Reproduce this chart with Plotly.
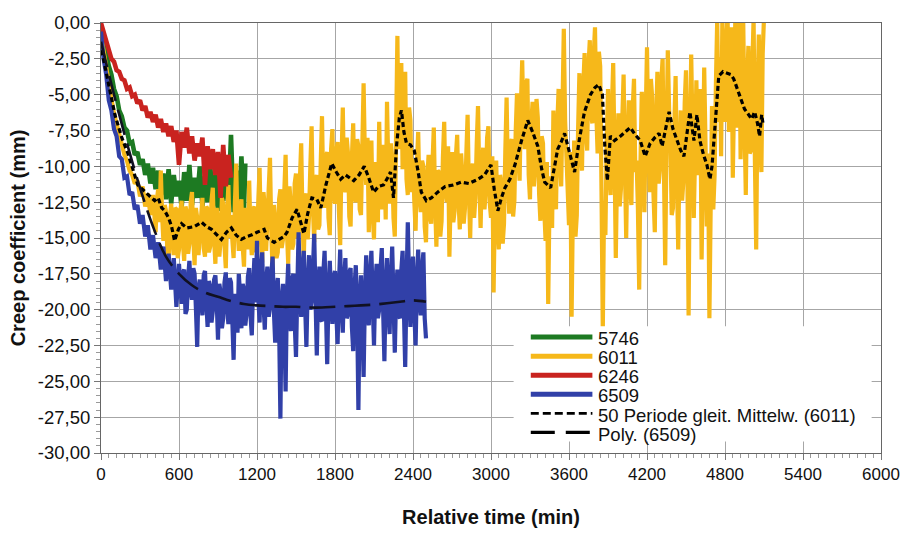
import plotly.graph_objects as go

# ---- measured series (time in min, creep coefficient in mm) ----
t_5746 = list(range(0, 1101, 20)) + [1110]
v_5746 = [-0.3, -1.3, -2.0, -3.0, -3.6, -4.6, -5.1, -6.1, -6.5, -7.3,
          -7.5, -8.4, -8.3, -9.2, -9.0, -9.9, -9.5, -10.6, -9.8, -11.2,
          -10.1, -11.6, -10.3, -12.0, -10.5, -12.3, -10.2, -12.6, -10.6, -12.1,
          -11.0, -12.9, -10.4, -12.4, -9.9, -12.7, -10.8, -12.2, -10.0, -12.8,
          -10.7, -12.5, -9.8, -12.9, -10.6, -13.1, -10.1, -12.4, -9.6, -12.7,
          -7.8, -13.2, -10.3, -13.4, -9.3, -13.0, -9.8]

# 6011: 20-min samples up to 380 min, 10-min samples afterwards
t_6011 = list(range(0, 400, 20)) + list(range(400, 5101, 10))
v_6011 = [
    -0.8, -2.0, -3.2, -4.4, -5.3, -6.3, -7.1, -7.8, -8.6, -9.2,
    -9.6, -10.3, -10.6, -11.2, -11.0, -12.1, -11.4, -12.8, -11.9, -13.4,
    # 400 - 590
    -12.0, -13.8, -14.6, -12.3, -11.6, -13.9, -10.3, -13.4, -15.2, -12.7,
    -13.1, -15.9, -17.4, -13.5, -12.6, -15.0, -16.2, -12.9, -13.0, -16.4,
    # 600 - 790
    -15.8, -13.1, -12.4, -15.3, -16.6, -12.8, -13.2, -16.1, -15.4, -12.5,
    -11.8, -14.9, -16.9, -12.9, -13.6, -16.2, -14.8, -12.6, -12.2, -15.7,
    # 800 - 990
    -16.3, -12.8, -13.0, -16.0, -15.6, -12.4, -11.5, -15.1, -16.8, -12.9,
    -13.9, -16.3, -15.2, -12.2, -12.6, -15.5, -17.1, -13.3, -11.3, -15.0,
    # 1000 - 1190
    -13.4, -15.1, -16.4, -12.6, -9.8, -14.2, -15.9, -13.0, -12.3, -15.6,
    -17.0, -12.9, -13.5, -15.8, -11.0, -14.7, -16.2, -13.1, -12.8, -16.0,
    # 1200 - 1390
    -15.6, -12.4, -10.1, -14.8, -16.7, -11.8, -12.9, -15.9, -14.0, -12.1,
    -9.4, -14.6, -17.3, -12.7, -13.8, -16.4, -16.0, -12.3, -11.6, -15.7,
    # 1400 - 1590
    -15.1, -11.8, -9.2, -14.5, -16.8, -11.4, -12.7, -15.8, -15.4, -11.2,
    -10.5, -15.0, -14.6, -10.9, -8.4, -13.7, -16.5, -12.2, -11.9, -15.1,
    # 1600 - 1790
    -13.5, -10.1, -7.2, -12.8, -15.3, -11.0, -10.6, -14.4, -14.1, -9.8,
    -6.5, -11.9, -12.9, -9.3, -9.0, -13.6, -14.8, -8.8, -7.4, -12.0,
    # 1800 - 1990
    -12.6, -9.0, -8.3, -13.1, -15.5, -9.6, -5.9, -11.4, -11.8, -8.0,
    -9.1, -13.5, -14.2, -9.4, -7.0, -12.2, -12.5, -8.1, -8.6, -13.0,
    # 2000 - 2190
    -13.4, -8.7, -4.2, -9.5, -11.3, -8.0, -14.6, -10.2, -8.2, -13.3,
    -15.1, -9.7, -10.7, -13.9, -6.9, -11.6, -13.0, -8.5, -9.4, -13.7,
    # 2200 - 2390
    -5.5, -10.0, -12.6, -8.4, -9.8, -13.6, -14.9, -7.5, -0.9, -8.8,
    -6.0, -2.8, -10.2, -5.6, -3.4, -10.9, -12.0, -5.9, -6.8, -11.8,
    # 2400 - 2590
    -9.5, -12.4, -14.5, -9.9, -7.6, -12.1, -13.2, -9.6, -10.0, -14.2,
    -15.3, -10.8, -9.2, -13.5, -14.0, -9.8, -7.3, -12.6, -15.6, -10.3,
    # 2600 - 2790
    -10.4, -14.9, -13.8, -9.4, -6.9, -11.8, -12.5, -8.6, -16.3, -12.0,
    -9.0, -13.9, -13.1, -9.3, -7.8, -12.3, -14.4, -9.1, -10.6, -14.0,
    # 2800 - 2990
    -12.9, -9.2, -6.4, -11.7, -15.0, -10.4, -9.8, -13.6, -12.2, -8.5,
    -5.8, -10.9, -14.3, -10.0, -8.7, -13.0, -11.6, -8.0, -7.2, -12.5,
    # 3000 - 3190
    -13.6, -9.3, -18.8, -12.4, -9.6, -14.1, -15.8, -10.6, -11.2, -15.4,
    -14.0, -9.0, -5.2, -10.8, -13.3, -8.4, -8.1, -13.5, -12.4, -7.6,
    # 3200 - 3390
    -4.9, -9.4, -11.0, -5.8, -2.6, -7.3, -8.8, -4.2, -3.9, -10.6,
    -12.3, -7.0, -5.5, -11.4, -10.1, -5.3, -6.6, -11.9, -13.8, -7.9,
    # 3400 - 3590
    -8.4, -13.1, -15.2, -9.7, -19.6, -12.5, -10.7, -14.3, -6.1, -10.9,
    -13.0, -7.1, -4.6, -9.5, -11.4, -5.9, -0.4, -6.8, -9.6, -12.7,
    # 3600 - 3790
    -14.1, -9.0, -20.5, -12.8, -8.2, -14.9, -13.4, -7.4, -3.5, -8.6,
    -10.3, -4.4, -2.1, -7.7, -8.9, -3.0, -1.2, -6.4, -7.0, -2.3,
    # 3800 - 3990
    -0.3, -6.2, -9.1, -2.0, -3.0, -11.7, -21.5, -12.4, -14.8, -8.3,
    -4.6, -10.5, -12.0, -6.0, -2.8, -9.2, -16.4, -10.1, -6.3, -12.8,
    # 4000 - 4190
    -11.5, -6.7, -3.6, -9.9, -15.0, -8.8, -5.4, -11.3, -12.7, -6.0,
    -3.9, -10.4, -9.6, -12.9, -18.6, -9.7, -4.8, -8.9, -13.2, -6.6,
    # 4200 - 4390
    -1.7, -7.9, -11.8, -3.9, -5.2, -12.0, -14.6, -6.8, -3.4, -11.2,
    -10.1, -4.1, -2.5, -10.0, -16.9, -8.2, -1.9, -6.0, -8.3, -13.4,
    # 4400 - 4590
    -12.9, -7.2, -3.7, -10.3, -15.8, -9.4, -6.1, -12.4, -11.0, -5.6,
    -3.3, -9.8, -20.4, -8.7, -2.2, -7.5, -13.6, -9.0, -4.0, -10.6,
    # 4600 - 4790
    -9.8, -4.6, -16.5, -10.2, -3.1, -8.4, -14.2, -9.1, -20.6, -12.7,
    -5.8, -13.0, -10.6, -4.3, 0.2, -6.9, -2.4, -9.3, 0.5, -4.8,
    # 4800 - 4990
    -6.9, -1.1, 0.4, -7.6, -2.0, -0.3, -10.8, -3.5, 0.6, -7.3,
    -4.2, 0.2, -9.5, -5.0, 0.3, -6.8, -12.0, -4.4, -1.6, -9.1,
    # 5000 - 5100
    -8.9, -3.0, 0.3, -9.6, -15.8, -5.2, -0.8, -7.7, -10.4, -2.1, 0.4]

t_6246 = list(range(0, 1001, 20))
v_6246 = [0.0, -0.6, -1.4, -1.8, -2.5, -2.7, -3.3, -3.4, -3.9, -4.0,
          -4.6, -4.5, -5.1, -5.0, -5.6, -5.4, -6.1, -5.8, -6.6, -6.2,
          -6.9, -6.4, -7.3, -6.7, -7.6, -7.0, -7.9, -7.2, -8.3, -7.5,
          -9.9, -7.6, -8.7, -7.3, -9.1, -7.9, -9.6, -8.4, -9.3, -8.0,
          -11.3, -8.6, -10.2, -8.8, -10.6, -9.0, -12.2, -8.5, -11.4, -9.2,
          -10.8]

# 6509: 20-min samples up to 580 min, 10-min samples afterwards
t_6509 = list(range(0, 600, 20)) + list(range(600, 2501, 10))
v_6509 = [
    -0.6, -2.5, -3.6, -5.4, -6.1, -7.4, -7.9, -9.3, -9.5, -10.8,
    -10.7, -12.0, -11.8, -13.0, -12.7, -14.0, -13.4, -14.9, -14.1, -15.8,
    -14.8, -16.4, -15.3, -17.2, -15.6, -18.0, -16.1, -18.6, -16.4, -19.8,
    # 600 - 790
    -16.8, -18.9, -19.6, -17.4, -17.2, -20.3, -20.0, -17.8, -16.6, -18.7,
    -19.3, -17.1, -17.5, -19.9, -22.6, -18.4, -17.9, -19.2, -20.4, -17.6,
    # 800 - 990
    -17.3, -19.5, -21.2, -18.0, -18.4, -20.9, -20.1, -17.9, -17.6, -19.4,
    -22.1, -18.2, -18.8, -21.3, -20.6, -18.1, -17.4, -19.8, -21.0, -17.8,
    # 1000 - 1190
    -18.1, -20.7, -23.5, -18.9, -19.4, -21.6, -17.5, -19.0, -21.3, -18.2,
    -18.6, -21.1, -20.2, -17.7, -17.1, -20.4, -21.8, -18.3, -16.4, -19.5,
    # 1200 - 1390
    -15.2, -19.1, -20.9, -17.2, -16.0, -19.6, -21.4, -18.1, -17.0, -20.5,
    -19.8, -17.6, -16.3, -20.1, -22.3, -18.5, -17.8, -21.0, -27.6, -19.3,
    # 1400 - 1590
    -18.2, -20.8, -25.7, -19.0, -16.8, -20.2, -21.5, -17.9, -17.5, -20.9,
    -23.3, -18.6, -14.6, -18.7, -20.5, -17.4, -15.9, -19.6, -22.6, -18.4,
    # 1600 - 1790
    -16.2, -20.0, -19.4, -17.3, -14.7, -19.1, -23.2, -18.6, -17.0, -20.7,
    -20.8, -17.5, -15.9, -19.8, -23.8, -18.9, -16.6, -19.4, -21.0, -17.7,
    # 1800 - 1990
    -17.3, -20.2, -22.4, -18.3, -15.8, -19.7, -21.6, -17.9, -16.4, -20.6,
    -20.3, -17.4, -17.1, -21.2, -22.9, -18.5, -16.9, -20.0, -27.0, -19.6,
    # 2000 - 2190
    -17.6, -20.4, -24.7, -19.1, -16.2, -19.8, -21.1, -17.6, -15.9, -19.5,
    -22.5, -18.3, -16.8, -20.6, -20.0, -17.2, -15.7, -19.9, -23.6, -18.6,
    # 2200 - 2390
    -16.4, -19.7, -21.7, -17.8, -15.6, -19.3, -23.0, -18.9, -17.2, -20.4,
    -20.6, -17.3, -15.9, -20.0, -24.0, -18.4, -13.9, -18.2, -21.2, -17.5,
    # 2400 - 2500
    -16.3, -20.1, -22.5, -18.0, -15.8, -19.4, -20.4, -17.1, -16.0, -20.6, -22.0]

# 50-period moving average of 6011
t_ma = [5, 50, 107, 160, 207, 283, 340, 390, 413, 440, 467, 490, 520, 543, 566,
        595, 620, 660, 719, 773, 810, 850, 890, 926, 965, 1003, 1040, 1079, 1120,
        1156, 1200, 1232, 1255, 1280, 1332, 1370, 1408, 1431, 1470, 1508, 1535,
        1561, 1590, 1622, 1660, 1691, 1730, 1775, 1810, 1844, 1880, 1921, 1944,
        1985, 2025, 2060, 2097, 2135, 2173, 2205, 2227, 2250, 2273, 2295, 2311,
        2330, 2350, 2380, 2410, 2440, 2464, 2503, 2541, 2590, 2648, 2710, 2770,
        2830, 2900, 2950, 3000, 3025, 3053, 3080, 3107, 3145, 3184, 3235, 3283,
        3320, 3360, 3390, 3413, 3459, 3490, 3513, 3540, 3566, 3600, 3643, 3680,
        3719, 3765, 3800, 3830, 3857, 3875, 3895, 3918, 3950, 3995, 4030, 4071,
        4110, 4148, 4186, 4224, 4260, 4293, 4316, 4345, 4370, 4400, 4431, 4460,
        4484, 4510, 4530, 4561, 4584, 4607, 4635, 4661, 4684, 4700, 4714, 4735,
        4752, 4785, 4814, 4845, 4867, 4890, 4913, 4950, 4982, 5005, 5028, 5050,
        5066, 5082, 5092]
v_ma = [-1.9, -4.0, -6.4, -8.0, -9.1, -11.3, -11.8, -12.2, -12.4, -12.2, -12.9,
        -13.1, -13.6, -14.2, -15.2, -14.4, -14.0, -14.3, -14.2, -13.9, -14.2,
        -14.4, -14.8, -15.1, -14.6, -14.3, -14.8, -15.1, -14.9, -14.8, -14.6,
        -14.5, -14.4, -15.0, -15.3, -15.1, -14.9, -14.6, -13.6, -13.0, -13.9,
        -14.7, -13.3, -12.2, -12.3, -12.9, -11.3, -9.8, -10.4, -10.9, -10.6,
        -10.9, -11.0, -10.6, -10.0, -10.8, -11.8, -11.4, -11.3, -10.8, -10.4,
        -12.2, -8.6, -6.6, -6.1, -7.6, -8.4, -8.5, -8.9, -10.4, -11.8, -12.4,
        -12.2, -11.8, -11.4, -11.3, -11.1, -11.2, -10.9, -10.6, -9.9, -11.6,
        -13.1, -12.2, -11.5, -10.9, -9.9, -8.2, -6.8, -7.6, -8.6, -10.2, -11.1,
        -11.5, -9.9, -8.8, -8.3, -7.7, -8.9, -10.4, -8.1, -6.2, -5.0, -4.5,
        -4.3, -5.0, -8.5, -11.0, -7.9, -8.2, -7.9, -7.6, -7.3, -7.8, -8.2,
        -9.3, -8.4, -8.0, -7.7, -8.6, -7.3, -6.2, -7.4, -8.2, -8.9, -9.3,
        -7.6, -6.2, -8.2, -6.4, -8.2, -9.2, -9.9, -10.9, -10.0, -8.2, -5.5,
        -3.7, -3.4, -3.5, -3.6, -3.9, -4.5, -5.2, -6.0, -6.4, -6.7, -6.2,
        -7.0, -7.9, -6.4, -7.0]

# polynomial trend of 6509
t_poly = list(range(0, 2501, 100))
v_poly = [-1.3, -5.0, -8.4, -11.5, -14.2, -16.3, -17.5, -18.3, -18.8, -19.1,
          -19.4, -19.6, -19.7, -19.75, -19.8, -19.8, -19.85, -19.85, -19.8,
          -19.75, -19.7, -19.65, -19.55, -19.45, -19.35, -19.45]

x_ticks = [0, 600, 1200, 1800, 2400, 3000, 3600, 4200, 4800, 5400, 6000]
y_ticks = [0, -2.5, -5, -7.5, -10, -12.5, -15, -17.5, -20, -22.5, -25, -27.5, -30]
y_tick_text = ["0,00", "-2,50", "-5,00", "-7,50", "-10,00", "-12,50", "-15,00",
               "-17,50", "-20,00", "-22,50", "-25,00", "-27,50", "-30,00"]

GREEN = "#1d7a22"
GOLD = "#f6b81a"
RED = "#c9231f"
BLUE = "#3140a8"
FONT = "Liberation Sans, Arial, sans-serif"
MA_DASH = "5px,3px"
POLY_DASH = "26px,9px"

fig = go.Figure()
fig.add_trace(go.Scatter(x=t_5746, y=v_5746, mode="lines", name="5746",
                         line=dict(color=GREEN, width=4.6)))
fig.add_trace(go.Scatter(x=t_6011, y=v_6011, mode="lines", name="6011",
                         line=dict(color=GOLD, width=4.2)))
fig.add_trace(go.Scatter(x=t_6246, y=v_6246, mode="lines", name="6246",
                         line=dict(color=RED, width=4.6)))
fig.add_trace(go.Scatter(x=t_6509, y=v_6509, mode="lines", name="6509",
                         line=dict(color=BLUE, width=4.2)))
fig.add_trace(go.Scatter(x=t_ma, y=v_ma, mode="lines",
                         name="50 Periode gleit. Mittelw. (6011)",
                         line=dict(color="black", width=3.2, dash=MA_DASH)))
fig.add_trace(go.Scatter(x=t_poly, y=v_poly, mode="lines", name="Poly. (6509)",
                         line=dict(color="#111122", width=2.6, dash=POLY_DASH,
                                   shape="spline")))

# legend drawn as a white box with swatches, over the lower right of the plot
legend_items = [("5746", GREEN, "solid", 5),
                ("6011", GOLD, "solid", 5),
                ("6246", RED, "solid", 5),
                ("6509", BLUE, "solid", 5),
                ("50 Periode gleit. Mittelw. (6011)", "black", "8px,4px", 2.8),
                ("Poly. (6509)", "black", "24px,11px", 3.2)]
shapes = [dict(type="rect", xref="paper", yref="paper", x0=0.529, x1=0.988,
               y0=0.027, y1=0.295, fillcolor="white", line=dict(width=0),
               layer="above")]
annotations = []
row_top, row_step = 0.2695, 0.0443
for i, (label, col, dash, w) in enumerate(legend_items):
    yy = row_top - i * row_step
    shapes.append(dict(type="line", xref="paper", yref="paper", x0=0.551, x1=0.630,
                       y0=yy, y1=yy, line=dict(color=col, width=w, dash=dash),
                       layer="above"))
    annotations.append(dict(xref="paper", yref="paper", x=0.634, y=yy - 0.004,
                            text=label, showarrow=False, xanchor="left",
                            yanchor="middle",
                            font=dict(family=FONT, size=18.5, color="#111")))

fig.update_layout(
    width=912, height=536,
    margin=dict(l=101, r=27, t=15, b=74),
    paper_bgcolor="white", plot_bgcolor="white",
    showlegend=False,
    font=dict(family=FONT, color="#111"),
    shapes=shapes, annotations=annotations,
)
fig.update_xaxes(
    range=[0, 6000], tickvals=x_ticks, ticktext=[str(v) for v in x_ticks],
    tickfont=dict(size=17), ticks="outside", ticklen=6, tickcolor="#777",
    showgrid=True, gridcolor="#a6a6a6", gridwidth=1,
    showline=True, linecolor="#666", linewidth=1, mirror=True,
    minor=dict(dtick=60, ticks="outside", ticklen=4, tickcolor="#999", showgrid=False),
    zeroline=False,
    title=dict(text="<b>Relative time (min)</b>", font=dict(size=20), standoff=26),
)
fig.update_yaxes(
    range=[-30, 0], tickvals=y_ticks, ticktext=y_tick_text,
    tickfont=dict(size=18.5), ticks="outside", ticklen=6, tickcolor="#777",
    showgrid=True, gridcolor="#a6a6a6", gridwidth=1,
    showline=True, linecolor="#666", linewidth=1, mirror=True,
    minor=dict(dtick=0.5, ticks="outside", ticklen=4, tickcolor="#999", showgrid=False),
    zeroline=False,
    title=dict(text="<b>Creep coefficient (mm)</b>", font=dict(size=20), standoff=6),
)

fig.write_html("out.html")
